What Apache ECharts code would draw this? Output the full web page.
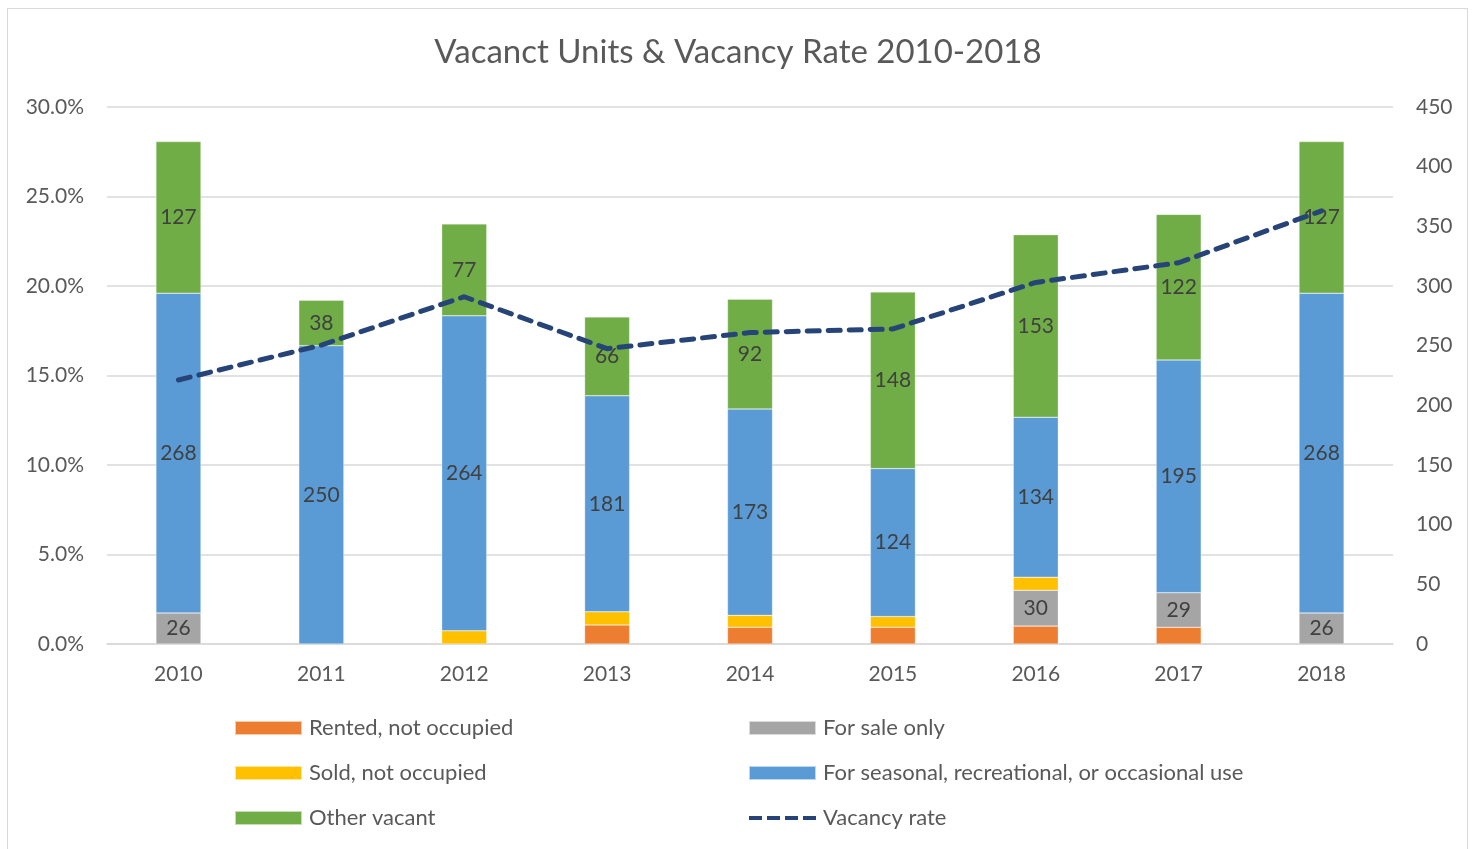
<!DOCTYPE html>
<html><head><meta charset="utf-8">
<script src="https://cdn.jsdelivr.net/npm/echarts@6/dist/echarts.min.js"></script>
<style>html,body{margin:0;padding:0;background:#fff}
#frame{position:absolute;left:7px;top:8px;width:1461px;height:845px;border:1px solid #d9d9d9;box-sizing:border-box}
#c{position:absolute;left:0;top:0;width:1476px;height:849px}</style>
</head><body><div id="frame"></div><div id="c"></div>
<script>
const years = ['2010','2011','2012','2013','2014','2015','2016','2017','2018'];
const rented   = [0, 0, 0, 16, 14, 14, 15, 14, 0];
const forSale  = [26, 0, 0, 0, 0, 0, 30, 29, 26];
const sold     = [0, 0, 11, 11, 10, 9, 11, 0, 0];
const seasonal = [268, 250, 264, 181, 173, 124, 134, 195, 268];
const other    = [127, 38, 77, 66, 92, 148, 153, 122, 127];
const vacancyRate = [0.1475, 0.167, 0.194, 0.165, 0.174, 0.176, 0.202, 0.213, 0.242];

const FONT = 'Lato';
const TXT = '#595959';
const chart = echarts.init(document.getElementById('c'));
function barSeries(name, data, color, showLabel){
  return {name, type:'bar', stack:'v', yAxisIndex:1, data: data.map(v => v === 0 ? null : v),
    barWidth:'31.5%', itemStyle:{color, borderColor:'rgba(255,255,255,0.6)', borderWidth:0.5},
    label:{show:showLabel, position:'inside', color:'#404040', fontSize:21, fontFamily:FONT},
    emphasis:{disabled:true}};
}
const dashIcon = 'path://M0,0h13v4h-13z M18,0h13v4h-13z M36,0h13v4h-13z M54,0h13v4h-13z';
const legendText = {fontFamily:FONT, fontSize:22, color:TXT, padding:[0,0,0,2]};
chart.setOption({
  animation:false,
  textStyle:{fontFamily:FONT},
  title:{text:'Vacanct Units & Vacancy Rate 2010-2018', left:'center', top:31,
    textStyle:{fontFamily:FONT, fontSize:33, fontWeight:'normal', color:TXT}},
  grid:{left:107, right:83, top:107, bottom:205},
  legend:[
    {left:234, top:717, padding:0, orient:'vertical', itemGap:23, itemWidth:67, itemHeight:14, icon:'rect',
     data:['Rented, not occupied','Sold, not occupied','Other vacant'], textStyle:legendText},
    {left:748, top:717, padding:0, orient:'vertical', itemGap:23, itemWidth:67, itemHeight:14,
     data:[{name:'For sale only', icon:'rect'},{name:'For seasonal, recreational, or occasional use', icon:'rect'},
           {name:'Vacancy rate', icon:dashIcon, itemStyle:{color:'#264478'}}],
     textStyle:legendText}
  ],
  xAxis:{type:'category', data:years,
    axisLine:{lineStyle:{color:'#d9d9d9', width:1.5}}, axisTick:{show:false},
    axisLabel:{color:TXT, fontSize:21, fontFamily:FONT, margin:20}},
  yAxis:[
    {type:'value', min:0, max:0.3, interval:0.05,
     axisLabel:{color:TXT, fontSize:21, fontFamily:FONT, margin:23,
       formatter:v => (v*100).toFixed(1)+'%'},
     splitLine:{lineStyle:{color:'#d9d9d9', width:1.5}}, axisLine:{show:false}, axisTick:{show:false}},
    {type:'value', min:0, max:450, interval:50,
     axisLabel:{color:TXT, fontSize:21, fontFamily:FONT, margin:23},
     splitLine:{show:false}, axisLine:{show:false}, axisTick:{show:false}}
  ],
  series:[
    barSeries('Rented, not occupied', rented, '#ED7D31', false),
    barSeries('For sale only', forSale, '#A5A5A5', true),
    barSeries('Sold, not occupied', sold, '#FFC000', false),
    barSeries('For seasonal, recreational, or occasional use', seasonal, '#5B9BD5', true),
    barSeries('Other vacant', other, '#70AD47', true),
    {name:'Vacancy rate', type:'line', yAxisIndex:0, data:vacancyRate, symbol:'none',
     lineStyle:{color:'#264478', width:5, type:[12,9], cap:'round'},
     itemStyle:{color:'#264478'}, emphasis:{disabled:true}, z:5}
  ]
});
</script></body></html>
